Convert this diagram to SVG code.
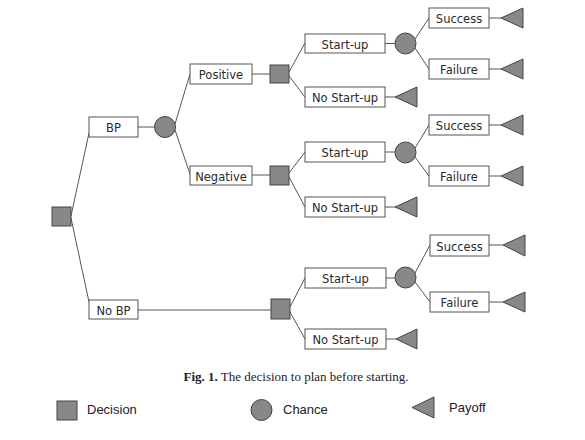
<svg xmlns="http://www.w3.org/2000/svg" width="585" height="440" viewBox="0 0 585 440">
<style>
.box{fill:#fff;stroke:#555;stroke-width:1}
.lbl{font-family:"DejaVu Sans",Verdana,sans-serif;font-size:11.5px;fill:#2a2a2a;text-anchor:middle}
.dec{fill:#888;stroke:#444;stroke-width:1}
.ch{fill:#888;stroke:#444;stroke-width:1}
.pay{fill:#888;stroke:#444;stroke-width:1}
.conn line{stroke:#555;stroke-width:1}
.leg{font-family:"Liberation Sans",Arial,sans-serif;font-size:13px;fill:#222}
.cap{font-family:"Liberation Serif","Times New Roman",serif;font-size:13px;fill:#222;text-anchor:middle}
</style>
<rect width="585" height="440" fill="#fff"/>
<g id="connectors" class="conn">
<line x1="71" y1="216" x2="89" y2="133"/>
<line x1="71" y1="218" x2="89" y2="302"/>
<line x1="138" y1="127" x2="155" y2="127"/>
<line x1="138" y1="310" x2="271" y2="310"/>
<line x1="175" y1="124" x2="190" y2="74"/>
<line x1="175" y1="130" x2="190" y2="174"/>
<line x1="252" y1="74" x2="270" y2="74"/>
<line x1="252" y1="175" x2="270" y2="175"/>
<line x1="289" y1="72" x2="305" y2="43"/>
<line x1="289" y1="76" x2="305" y2="97"/>
<line x1="289" y1="173" x2="305" y2="152"/>
<line x1="289" y1="177" x2="305" y2="207"/>
<line x1="290" y1="307" x2="305" y2="278"/>
<line x1="290" y1="312" x2="305" y2="339"/>
<line x1="385" y1="43.5" x2="395" y2="43.5"/>
<line x1="385" y1="152" x2="395" y2="152"/>
<line x1="386" y1="278" x2="395" y2="278"/>
<line x1="385" y1="97" x2="395" y2="97"/>
<line x1="385" y1="207" x2="396" y2="207"/>
<line x1="386" y1="339" x2="396" y2="339"/>
<line x1="415" y1="39" x2="429" y2="18"/>
<line x1="415" y1="48" x2="429" y2="69"/>
<line x1="415" y1="148" x2="429" y2="125"/>
<line x1="415" y1="157" x2="429" y2="176"/>
<line x1="415" y1="273" x2="430" y2="245"/>
<line x1="415" y1="282" x2="430" y2="302"/>
<line x1="489" y1="18" x2="501" y2="18"/>
<line x1="489" y1="69" x2="501" y2="69"/>
<line x1="489" y1="125" x2="501" y2="125"/>
<line x1="489" y1="176" x2="501" y2="176"/>
<line x1="489" y1="245" x2="503" y2="245"/>
<line x1="489" y1="302" x2="503" y2="302"/>
</g>
<g id="root"><rect class="dec" x="52" y="207" width="19" height="19"/></g>
<g id="bp"><rect class="box" x="89" y="117" width="49" height="20"/><text class="lbl" x="113.5" y="132">BP</text></g>
<g id="nobp"><rect class="box" x="89" y="300" width="49" height="19"/><text class="lbl" x="113.5" y="315">No BP</text></g>
<g id="chance-bp"><circle class="ch" cx="165" cy="127" r="10.5"/></g>
<g id="positive"><rect class="box" x="190" y="64" width="62" height="20"/><text class="lbl" x="221" y="79">Positive</text></g>
<g id="negative"><rect class="box" x="190" y="166" width="62" height="19"/><text class="lbl" x="221" y="181">Negative</text></g>
<g id="dec-pos"><rect class="dec" x="270" y="65" width="19" height="18"/></g>
<g id="dec-neg"><rect class="dec" x="270" y="166" width="19" height="19"/></g>
<g id="dec-nobp"><rect class="dec" x="271" y="299" width="19" height="20"/></g>
<g id="startup1"><rect class="box" x="305" y="34" width="80" height="19"/><text class="lbl" x="345" y="49">Start-up</text></g>
<g id="nostartup1"><rect class="box" x="305" y="87" width="80" height="20"/><text class="lbl" x="345" y="102">No Start-up</text></g>
<g id="startup2"><rect class="box" x="305" y="142" width="80" height="20"/><text class="lbl" x="345" y="157">Start-up</text></g>
<g id="nostartup2"><rect class="box" x="305" y="197" width="80" height="20"/><text class="lbl" x="345" y="212">No Start-up</text></g>
<g id="startup3"><rect class="box" x="305" y="268" width="81" height="20"/><text class="lbl" x="345.5" y="283">Start-up</text></g>
<g id="nostartup3"><rect class="box" x="305" y="329" width="81" height="20"/><text class="lbl" x="345.5" y="344">No Start-up</text></g>
<g id="chance1"><circle class="ch" cx="405.5" cy="43.5" r="10.5"/></g>
<g id="chance2"><circle class="ch" cx="405.5" cy="152.5" r="10.5"/></g>
<g id="chance3"><circle class="ch" cx="405.5" cy="277.5" r="10.5"/></g>
<g id="success1"><rect class="box" x="429" y="8" width="60" height="20"/><text class="lbl" x="459" y="23">Success</text></g>
<g id="failure1"><rect class="box" x="429" y="59" width="60" height="20"/><text class="lbl" x="459" y="74">Failure</text></g>
<g id="success2"><rect class="box" x="429" y="115" width="60" height="20"/><text class="lbl" x="459" y="130">Success</text></g>
<g id="failure2"><rect class="box" x="429" y="166" width="60" height="20"/><text class="lbl" x="459" y="181">Failure</text></g>
<g id="success3"><rect class="box" x="430" y="235" width="59" height="21"/><text class="lbl" x="459.5" y="251">Success</text></g>
<g id="failure3"><rect class="box" x="430" y="292" width="59" height="20"/><text class="lbl" x="459.5" y="307">Failure</text></g>
<g id="payoffs">
<polygon class="pay" points="501,18 523,8 523,28"/>
<polygon class="pay" points="501,69 523,59 523,79"/>
<polygon class="pay" points="395,97 417,87 417,107"/>
<polygon class="pay" points="501,125 523,115 523,135"/>
<polygon class="pay" points="501,176 523,166 523,186"/>
<polygon class="pay" points="395,207 417,197 417,217"/>
<polygon class="pay" points="503,245 525,235 525,256"/>
<polygon class="pay" points="503,302 525,292 525,312"/>
<polygon class="pay" points="396,339 417,329 417,349"/>
</g>
<g id="caption"><text class="cap" x="296" y="381"><tspan font-weight="bold">Fig. 1.</tspan> The decision to plan before starting.</text></g>
<g id="legend">
<rect class="dec" x="57" y="401" width="20" height="19"/>
<text class="leg" x="87" y="414">Decision</text>
<circle class="ch" cx="261.5" cy="410" r="10.5"/>
<text class="leg" x="283" y="414">Chance</text>
<polygon class="pay" points="412,407.5 434,397 434,418"/>
<text class="leg" x="449" y="412">Payoff</text>
</g>
</svg>
